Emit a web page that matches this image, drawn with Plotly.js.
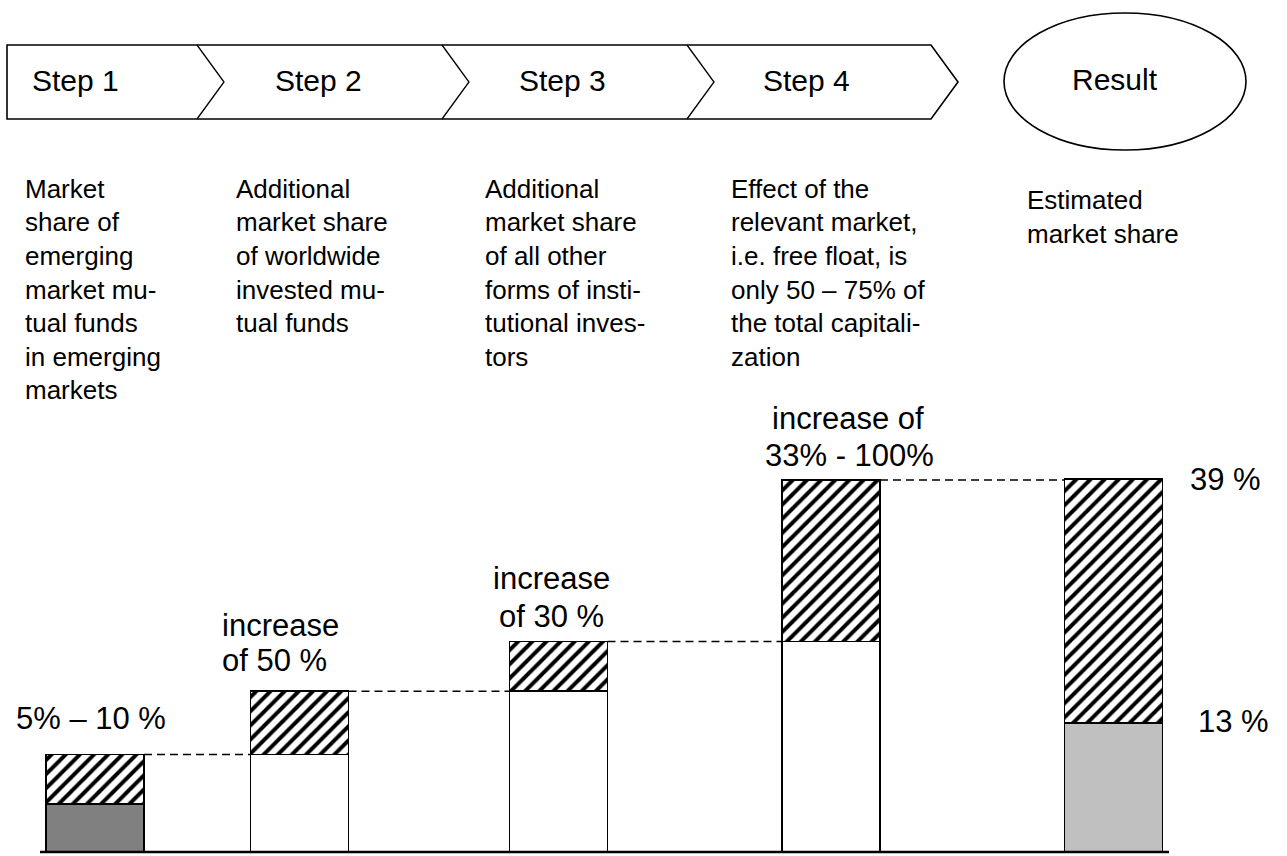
<!DOCTYPE html>
<html>
<head>
<meta charset="utf-8">
<script src="https://cdn.plot.ly/plotly-3.0.1.min.js"></script>
<style>
  html, body { margin: 0; padding: 0; background: #ffffff; }
  #chart { width: 1287px; height: 856px; }
</style>
</head>
<body>
<div id="chart"></div>
<script>
// ---------------- data (in % market share) ----------------
const categories = ['Step 1', 'Step 2', 'Step 3', 'Step 4', 'Result'];
const baseShare  = [5.0, 10.2, 16.8, 22.0, 13.5];   // lower (solid) segment
const addedShare = [5.2, 6.6, 5.2, 16.9, 25.5];     // upper (hatched) segment
const baseColors = ['#808080', '#ffffff', '#ffffff', '#ffffff', '#c0c0c0'];

const stepLabels = ['Step 1', 'Step 2', 'Step 3', 'Step 4', 'Result'];
const descriptions = [
  ['Market', 'share of', 'emerging', 'market mu-', 'tual funds', 'in emerging', 'markets'],
  ['Additional', 'market share', 'of worldwide', 'invested mu-', 'tual funds'],
  ['Additional', 'market share', 'of all other', 'forms of insti-', 'tutional inves-', 'tors'],
  ['Effect of the', 'relevant market,', 'i.e. free float, is', 'only 50 \u2013 75% of', 'the total capitali-', 'zation'],
  ['Estimated', 'market share']
];
const barLabels = [
  ['5% \u2013 10 %'],
  ['increase', 'of 50 %'],
  ['increase', 'of 30 %'],
  ['increase of', '33% - 100%']
];
const resultTopLabel = '39 %';
const resultBaseLabel = '13 %';

// ---------------- layout constants (pixels) ----------------
const W = 1287, H = 856;
const FONT = 'Liberation Sans, Arial, sans-serif';
const barX = [95, 299.5, 558.5, 831, 1113.5];
const barW = 98;
const pxPerUnit = 9.564;          // vertical scale of the bars
const baselinePx = 852;           // pixel row of value 0
const yMin = -(H - baselinePx) / pxPerUnit;
const yMax = yMin + H / pxPerUnit;
const P = y => 1 - y / H;         // pixel row -> paper fraction

const totals = baseShare.map((b, i) => b + addedShare[i]);

// ---------------- traces ----------------
const baseTrace = {
  type: 'bar', x: barX, y: baseShare, width: barX.map(() => barW),
  text: categories, textposition: 'none', hoverinfo: 'skip',
  marker: { color: baseColors, line: { color: '#000000', width: 1.7 } },
  showlegend: false
};
const addTrace = {
  type: 'bar', x: barX, y: addedShare, width: barX.map(() => barW),
  text: categories, textposition: 'none', hoverinfo: 'skip',
  marker: {
    color: '#ffffff',
    line: { color: '#000000', width: 1.7 },
    pattern: { shape: '/', fgcolor: '#000000', bgcolor: '#ffffff', size: 10, solidity: 0.4 }
  },
  showlegend: false
};

// ---------------- shapes ----------------
const shapes = [];
const bandTop = 45, bandBot = 119, bandMid = 82;
const chev = [[197, 224], [442, 469], [687, 714], [931, 958]];
shapes.push({
  type: 'path', xref: 'x', yref: 'paper', layer: 'below',
  path: `M 7,${P(bandTop)} L ${chev[3][0]},${P(bandTop)} L ${chev[3][1]},${P(bandMid)} L ${chev[3][0]},${P(bandBot)} L 7,${P(bandBot)} Z`,
  line: { color: '#000000', width: 1.6 }, fillcolor: '#ffffff'
});
for (let i = 0; i < 3; i++) {
  shapes.push({
    type: 'path', xref: 'x', yref: 'paper',
    path: `M ${chev[i][0]},${P(bandTop)} L ${chev[i][1]},${P(bandMid)} L ${chev[i][0]},${P(bandBot)}`,
    line: { color: '#000000', width: 1.3 }
  });
}
shapes.push({
  type: 'circle', xref: 'x', yref: 'paper',
  x0: 1004, x1: 1246, y0: P(150), y1: P(13),
  line: { color: '#000000', width: 1.6 }, fillcolor: 'rgba(0,0,0,0)'
});
for (let i = 0; i < 4; i++) {
  shapes.push({
    type: 'line', xref: 'x', yref: 'y',
    x0: barX[i] + barW / 2, x1: barX[i + 1] - barW / 2,
    y0: totals[i], y1: totals[i],
    line: { color: '#000000', width: 1.5, dash: '8px,5px' }
  });
}
shapes.push({
  type: 'line', xref: 'x', yref: 'y', x0: 40, x1: 1169, y0: 0, y1: 0,
  line: { color: '#000000', width: 2.5 }
});

// ---------------- annotations ----------------
const annotations = [];
function txt(x, yPx, text, size, anchor) {
  annotations.push({
    xref: 'x', yref: 'paper', x: x, y: P(yPx), text: text, showarrow: false,
    xanchor: anchor || 'center', yanchor: 'middle',
    font: { family: FONT, size: size, color: '#000000' }
  });
}
const stepX = [75, 318, 562, 806, 1115];
stepLabels.forEach((s, i) => txt(stepX[i], i === 4 ? 79 : 80, s, 30));

const descX = [23, 234, 483, 729, 1025];
const descY0 = [189, 189, 189, 189, 200];
const descPitch = 33.5;
descriptions.forEach((lines, c) => {
  lines.forEach((ln, k) => txt(descX[c], descY0[c] + k * descPitch, ln, 26, 'left'));
});

const labelPos = [
  [[91, 718]],
  [[280, 625], [274, 660]],
  [[551, 578], [551, 616]],
  [[848, 419], [849, 455]]
];
barLabels.forEach((lines, i) => {
  lines.forEach((ln, k) => txt(labelPos[i][k][0], labelPos[i][k][1], ln, 31));
});
txt(1225, 479, resultTopLabel, 31);
txt(1233, 721, resultBaseLabel, 31);

// ---------------- layout ----------------
const layout = {
  width: W, height: H,
  margin: { l: 0, r: 0, t: 0, b: 0, pad: 0 },
  paper_bgcolor: '#ffffff', plot_bgcolor: '#ffffff',
  barmode: 'stack',
  showlegend: false,
  xaxis: { range: [0, W], visible: false, fixedrange: true },
  yaxis: { range: [yMin, yMax], visible: false, fixedrange: true },
  shapes: shapes,
  annotations: annotations,
  font: { family: FONT }
};

Plotly.newPlot('chart', [baseTrace, addTrace], layout, { displayModeBar: false, staticPlot: true });
</script>
</body>
</html>
